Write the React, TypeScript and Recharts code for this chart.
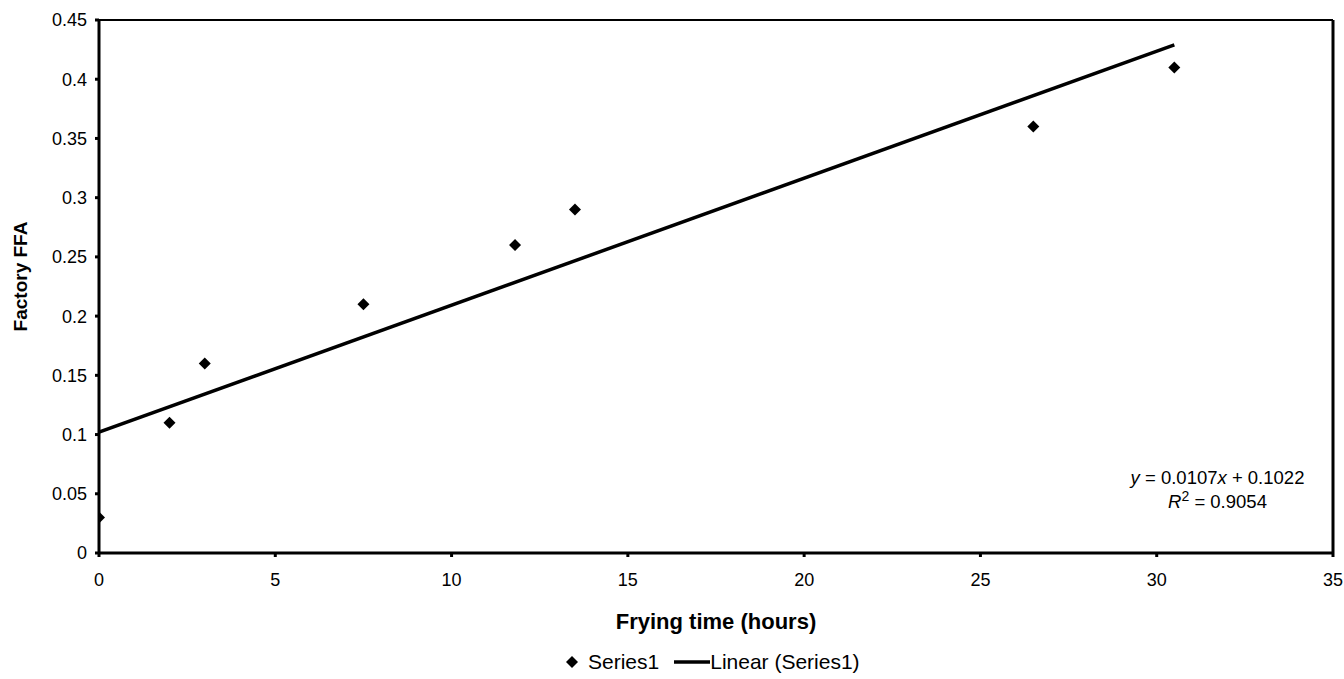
import { ScatterChart, Scatter, XAxis, YAxis, ReferenceLine } from 'recharts';

const xTicks = [0, 5, 10, 15, 20, 25, 30, 35];
const yTicks = [0, 0.05, 0.1, 0.15, 0.2, 0.25, 0.3, 0.35, 0.4, 0.45];

const fryingHours = [0, 2, 3, 7.5, 11.8, 13.5, 26.5, 30.5];
const ffaValues = [0.03, 0.11, 0.16, 0.21, 0.26, 0.29, 0.36, 0.41];

// trendline endpoints as drawn in the picture
const trendX = [0, 30.5];
const trendY = [0.102, 0.429];

const points = fryingHours.map((x, i) => ({ x, y: ffaValues[i] }));
const trend = trendX.map((x, i) => ({ x, y: trendY[i] }));

const FONT = '"Liberation Sans", Arial, sans-serif';

const Diamond = (props: any) => {
  const { cx, cy } = props;
  const r = 6;
  return <polygon points={`${cx},${cy - r} ${cx + r},${cy} ${cx},${cy + r} ${cx - r},${cy}`} fill="#000" />;
};

const YLabel = (props: any) => {
  const { x, y, height } = props.viewBox;
  const cx = x + 20;
  const cy = y + height / 2 - 10;
  return (
    <text x={cx} y={cy} transform={`rotate(-90 ${cx} ${cy})`} textAnchor="middle" dominantBaseline="central"
      fill="#000" fontSize={19} fontWeight="bold" fontFamily={FONT}>
      Factory FFA
    </text>
  );
};

export default function App() {
  return (
    <div style={{ position: 'relative', width: 1344, height: 679, background: '#fff', fontFamily: FONT }}>
      <style>{`body{margin:0}`}</style>
      <ScatterChart width={1344} height={679} margin={{ top: 20, right: 11, left: 0, bottom: 0 }}>
        <XAxis
          type="number"
          dataKey="x"
          domain={[0, 35]}
          ticks={xTicks}
          allowDataOverflow
          height={126}
          tickSize={4}
          tickMargin={16}
          stroke="#000"
          strokeWidth={3}
          tick={{ fill: '#000', fontSize: 18, fontFamily: FONT }}
          label={{ value: 'Frying time (hours)', position: 'insideTop', offset: 60, fill: '#000', fontSize: 22, fontWeight: 'bold', fontFamily: FONT }}
        />
        <YAxis
          type="number"
          dataKey="y"
          domain={[0, 0.45]}
          ticks={yTicks}
          allowDataOverflow
          width={99}
          tickSize={4}
          tickMargin={8}
          stroke="#000"
          strokeWidth={3}
          tick={{ fill: '#000', fontSize: 18, fontFamily: FONT }}
          label={{ content: YLabel }}
        />
        <ReferenceLine y={0.45} stroke="#000" strokeWidth={2} />
        <ReferenceLine x={35} stroke="#000" strokeWidth={3} />
        <Scatter
          name="Linear (Series1)"
          data={trend}
          line={{ stroke: '#000', strokeWidth: 3.5 }}
          shape={() => <g />}
          isAnimationActive={false}
        />
        <Scatter name="Series1" data={points} shape={Diamond} isAnimationActive={false} />
      </ScatterChart>
      <div style={{ position: 'absolute', left: 1110, top: 466, width: 215, textAlign: 'center', fontSize: 18.5, lineHeight: '24px', color: '#000' }}>
        <div><i>y</i> = 0.0107<i>x</i> + 0.1022</div>
        <div><i>R</i><sup style={{ fontSize: 14, lineHeight: 0 }}>2</sup> = 0.9054</div>
      </div>
      <div style={{ position: 'absolute', left: 565, top: 649, height: 26, display: 'flex', alignItems: 'center', fontSize: 21, color: '#000', whiteSpace: 'nowrap' }}>
        <svg width={14} height={14} style={{ marginRight: 9 }}>
          <polygon points="7,1 13,7 7,13 1,7" fill="#000" />
        </svg>
        <span style={{ marginRight: 15 }}>Series1</span>
        <svg width={36} height={10}>
          <line x1={0} y1={5} x2={36} y2={5} stroke="#000" strokeWidth={3.5} />
        </svg>
        <span>Linear (Series1)</span>
      </div>
    </div>
  );
}
